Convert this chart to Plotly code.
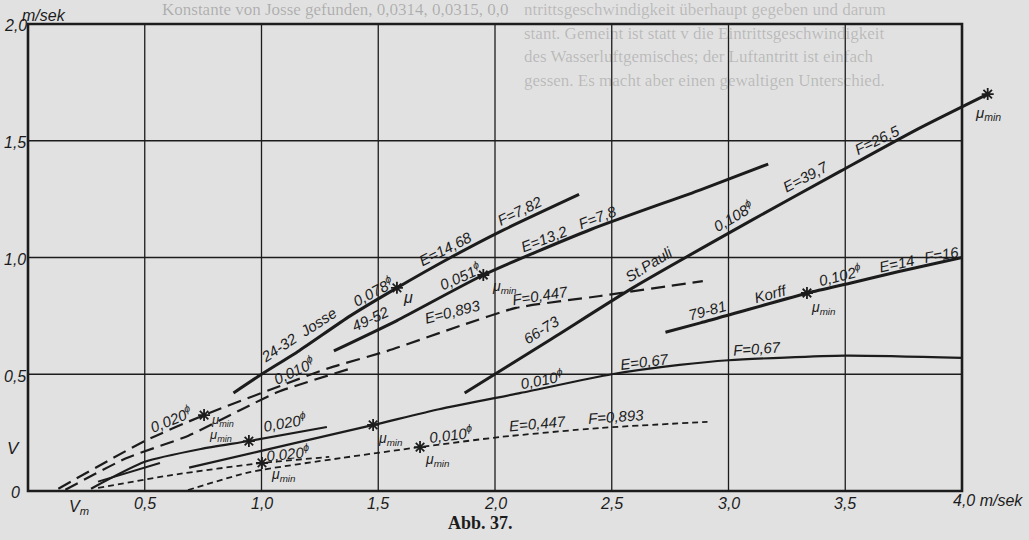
import plotly.graph_objects as go

# ---------------- data (m/sek) ----------------
x_ticks = [0.5, 1.0, 1.5, 2.0, 2.5, 3.0, 3.5]
x_tick_labels = ["0,5", "1,0", "1,5", "2,0", "2,5", "3,0", "3,5"]
y_ticks = [0.5, 1.0, 1.5, 2.0]
y_tick_labels = ["0,5", "1,0", "1,5", "2,0"]

# Josse 24-32 (solid, thick)
josse_x = [0.88, 1.00, 1.16, 1.38, 1.58, 1.81, 2.02, 2.36]
josse_y = [0.42, 0.50, 0.60, 0.75, 0.87, 1.00, 1.11, 1.27]
josse_mu = (1.58, 0.87)

# 49-52 (solid, thick)
s4952_x = [1.31, 1.58, 1.95, 2.41, 2.88, 3.17]
s4952_y = [0.60, 0.73, 0.925, 1.12, 1.29, 1.40]
s4952_mu = (1.95, 0.925)

# St. Pauli 66-73 (solid, thick)
pauli_x = [1.87, 2.24, 2.59, 3.10, 3.48, 3.81, 4.11]
pauli_y = [0.42, 0.65, 0.87, 1.16, 1.37, 1.55, 1.70]
pauli_mu = (4.11, 1.70)

# Korff 79-81 (solid, thick)
korff_x = [2.73, 2.88, 3.34, 3.52, 3.73, 4.00]
korff_y = [0.68, 0.72, 0.848, 0.89, 0.94, 1.00]
korff_mu = (3.336, 0.848)

# E=0,67 / F=0,67 (solid)
c_x = [0.69, 0.99, 1.48, 1.76, 2.11, 2.50, 2.79, 3.00, 3.50, 4.00]
c_y = [0.10, 0.17, 0.283, 0.35, 0.42, 0.50, 0.54, 0.56, 0.58, 0.57]
c_mu = (1.478, 0.283)

# 0,020 (solid, lower)
l2_x = [0.27, 0.50, 0.74, 0.946, 1.28]
l2_y = [0.01, 0.125, 0.18, 0.214, 0.274]
l2_mu = (0.946, 0.214)

# short solid companion
sh_x = [0.30, 0.565]
sh_y = [0.04, 0.12]

# long dashed, upper (0,020 -> E=0,893 -> F=0,447)
a_x = [0.13, 0.50, 0.754, 1.08, 1.29, 1.54, 1.85, 2.09, 2.45, 2.89]
a_y = [0.01, 0.214, 0.325, 0.45, 0.527, 0.60, 0.707, 0.784, 0.835, 0.899]
a_mu = (0.754, 0.325)

# long dashed, lower (0,010)
b_x = [0.16, 0.42, 0.685, 0.91, 1.07, 1.39]
b_y = [0.005, 0.14, 0.236, 0.347, 0.424, 0.527]

# short dashed 0,020
d_x = [0.30, 0.62, 1.002, 1.29]
d_y = [0.013, 0.069, 0.120, 0.146]
d_mu = (1.002, 0.120)

# short dashed 0,010 -> E=0,447 / F=0,893
e_x = [0.685, 0.95, 1.34, 1.679, 2.02, 2.45, 2.91]
e_y = [0.004, 0.081, 0.141, 0.188, 0.231, 0.270, 0.296]
e_mu = (1.679, 0.188)

# faint show-through text of the scanned page (only the clearly legible top lines)
bleed_left = ["Konstante von Josse gefunden, 0,0314, 0,0315, 0,0"]
bleed_right = [
    "ntrittsgeschwindigkeit überhaupt gegeben und darum",
    "stant. Gemeint ist statt v die Eintrittsgeschwindigkeit",
    "des Wasserluftgemisches; der Luftantritt ist einfach",
    "gessen. Es macht aber einen gewaltigen Unterschied.",
]

# ---------------- styling ----------------
INK = "#1c1c1c"
PAPER = "#e1e1e1"
FONT = "Liberation Sans"
W, H = 1029, 540

fig = go.Figure()

def add_line(xs, ys, width, dash="solid"):
    fig.add_trace(go.Scatter(x=xs, y=ys, mode="lines",
                             line=dict(color=INK, width=width, dash=dash, shape="spline", smoothing=0.6),
                             hoverinfo="skip", showlegend=False, cliponaxis=False))

add_line(josse_x, josse_y, 3.0)
add_line(s4952_x, s4952_y, 3.0)
add_line(pauli_x, pauli_y, 3.0)
add_line(korff_x, korff_y, 3.0)
add_line(c_x, c_y, 2.2)
add_line(l2_x, l2_y, 2.2)
add_line(sh_x, sh_y, 2.0)
add_line(a_x, a_y, 2.2, "14px,7px")
add_line(b_x, b_y, 2.2, "14px,7px")
add_line(d_x, d_y, 1.8, "6px,4px")
add_line(e_x, e_y, 1.8, "6px,4px")

mus = [josse_mu, s4952_mu, pauli_mu, korff_mu, c_mu, l2_mu, a_mu, d_mu, e_mu]
fig.add_trace(go.Scatter(x=[m[0] for m in mus], y=[m[1] for m in mus], mode="markers",
                         marker=dict(symbol="asterisk-open", size=10, color=INK,
                                     line=dict(color=INK, width=1.8)),
                         hoverinfo="skip", showlegend=False, cliponaxis=False))

# grid + frame
shapes = []
for xv in x_ticks:
    shapes.append(dict(type="line", x0=xv, x1=xv, y0=0, y1=2.0, line=dict(color=INK, width=1.3), layer="below"))
for yv in y_ticks[:-1]:
    shapes.append(dict(type="line", x0=0, x1=4.0, y0=yv, y1=yv, line=dict(color=INK, width=1.3), layer="below"))
shapes.append(dict(type="rect", x0=0, x1=4.0, y0=0, y1=2.0, line=dict(color=INK, width=2.6), layer="below"))

ann = []

# show-through text (beneath the chart text)
for i, t in enumerate(bleed_left):
    ann.append(dict(xref="paper", yref="paper", x=160 / W, y=1 - 9 / H,
                    xanchor="left", yanchor="middle", text=t, showarrow=False,
                    font=dict(family="Liberation Serif", size=17, color="rgba(40,40,40,0.28)")))
for i, t in enumerate(bleed_right):
    py = 10 + i * 23.5
    ann.append(dict(xref="paper", yref="paper", x=522 / W, y=1 - py / H,
                    xanchor="left", yanchor="middle", text=t, showarrow=False,
                    font=dict(family="Liberation Serif", size=17, color="rgba(40,40,40,0.22)")))

def lab(x, y, t, ang=0, size=15, **kw):
    ann.append(dict(x=x, y=y, text="<i>" + t + "</i>", showarrow=False, textangle=ang,
                    font=dict(family=FONT, size=size, color=INK), **kw))

PHI = "<sup>ϕ</sup>"
MU = "μ<sub>min</sub>"

# axis labels
for xv, t in zip(x_ticks, x_tick_labels):
    lab(xv, -0.053, t, 0, 16)
for yv, t in zip(y_ticks, y_tick_labels):
    lab(-0.055, yv - 0.008, t, 0, 16)
lab(-0.052, -0.005, "0", 0, 16)
lab(-0.06, 0.184, "V", 0, 17)
lab(0.22, -0.07, "V<sub>m</sub>", 0, 16)
lab(4.11, -0.04, "4,0 m/sek", 0, 16)
lab(0.07, 2.035, "m/sek", 0, 16)
ann.append(dict(x=1.94, y=-0.137, text="<b>Abb. 37.</b>", showarrow=False,
                font=dict(family="Liberation Serif", size=18, color=INK)))

# curve labels
lab(2.108, 1.200, "F=7,82", -26)
lab(1.790, 1.038, "E=14,68", -27)
lab(1.478, 0.858, "0,078" + PHI, -28)
lab(1.628, 0.828, "μ", 0, 16)
lab(1.850, 0.925, "0,051" + PHI, -24)
lab(2.040, 0.872, MU, 0, 14)
lab(2.214, 1.080, "E=13,2", -21)
lab(2.437, 1.170, "F=7,8", -21)
lab(2.193, 0.838, "F=0,447", -9)
lab(1.820, 0.768, "E=0,893", -14)
lab(1.160, 0.670, "24-32  Josse", -33)
lab(1.468, 0.738, "49-52", -25)
lab(1.140, 0.520, "0,010" + PHI, -25)
lab(0.612, 0.310, "0,020" + PHI, -22)
lab(0.835, 0.304, MU, 0, 13)
lab(0.826, 0.236, MU, 0, 13)
lab(1.100, 0.297, "0,020" + PHI, -10)
lab(1.550, 0.222, MU, 0, 14)
lab(1.113, 0.167, "0,020" + PHI, -6)
lab(1.092, 0.068, MU, 0, 14)
lab(1.812, 0.248, "0,010" + PHI, -7)
lab(1.752, 0.134, MU, 0, 14)
lab(2.180, 0.287, "E=0,447", -5)
lab(2.518, 0.321, "F=0,893", -4)
lab(2.201, 0.482, "0,010" + PHI, -11)
lab(2.642, 0.556, "E=0,67", -7)
lab(3.122, 0.610, "F=0,67", -4)
lab(2.200, 0.690, "66-73", -32)
lab(2.658, 0.968, "St.Pauli", -32)
lab(3.018, 1.182, "0,108" + PHI, -30)
lab(3.330, 1.348, "E=39,7", -28)
lab(3.638, 1.507, "F=26,5", -26)
lab(4.110, 1.617, MU, 0, 15)
lab(2.906, 0.775, "79-81", -15)
lab(3.184, 0.847, "Korff", -15)
lab(3.476, 0.929, "0,102" + PHI, -14)
lab(3.405, 0.783, MU, 0, 14)
lab(3.720, 0.975, "E=14", -12)
lab(3.912, 1.012, "F=16", -10)

S = 233.5
fig.update_layout(
    width=W, height=H,
    margin=dict(l=0, r=0, t=0, b=0),
    paper_bgcolor=PAPER, plot_bgcolor=PAPER,
    xaxis=dict(range=[-28 / S, 1001 / S], visible=False, fixedrange=True),
    yaxis=dict(range=[-49 / S, 491 / S], visible=False, fixedrange=True),
    shapes=shapes, annotations=ann, showlegend=False,
    hovermode=False,
)
fig.write_html(
    "out.html",
    config={"displayModeBar": False, "staticPlot": True},
    post_script="document.body.style.margin='0';document.body.style.overflow='hidden';"
                "document.body.style.background='" + PAPER + "';"
                "document.documentElement.style.background='" + PAPER + "';",
)
